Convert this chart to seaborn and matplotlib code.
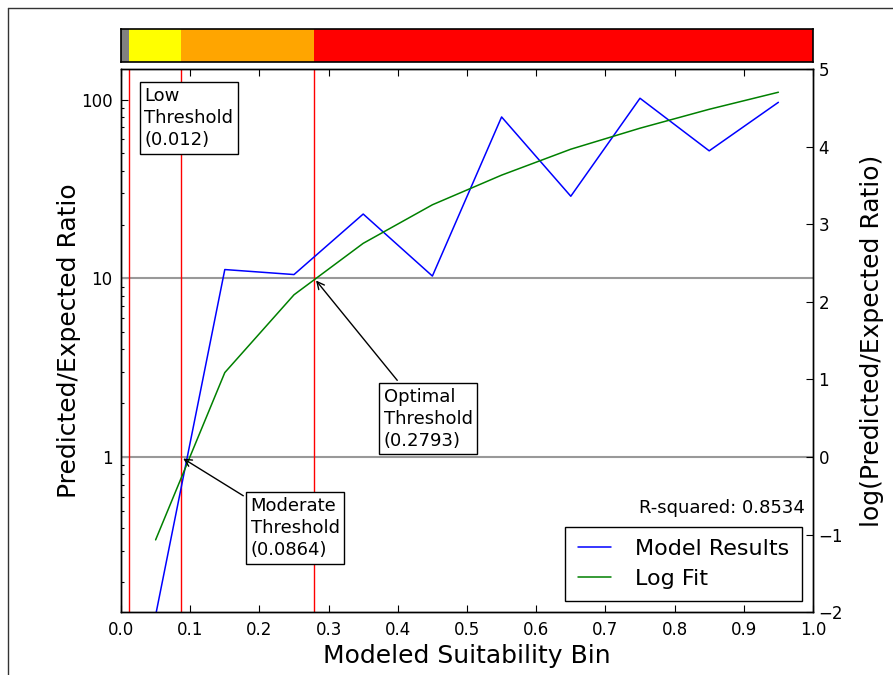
import numpy as np
import pandas as pd
import matplotlib
matplotlib.use("Agg")
import matplotlib.pyplot as plt
import matplotlib.ticker as mticker
from matplotlib.lines import Line2D
import seaborn as sns

# ---- data ----
bins = [0.05, 0.15, 0.25, 0.35, 0.45, 0.55, 0.65, 0.75, 0.85, 0.95]
model_results = [0.13, 11.2, 10.5, 22.9, 10.3, 80.0, 28.8, 101.8, 51.7, 96.6]
log_fit = [0.344, 2.97, 8.09, 15.7, 25.8, 37.8, 52.8, 69.2, 88.3, 110.0]
thresholds = [0.012, 0.0864, 0.2793]
threshold_names = ["Low", "Moderate", "Optimal"]
strip_edges = [0.0, 0.012, 0.0864, 0.2793, 1.0]
strip_colors = ["#808080", "#ffff00", "#ffa500", "#ff0000"]
ref_lines = [1, 10]
r_squared = 0.8534
x_ticks = [0.0, 0.1, 0.2, 0.3, 0.4, 0.5, 0.6, 0.7, 0.8, 0.9, 1.0]
left_ticks = [1, 10, 100]
right_ticks = [-2, -1, 0, 1, 2, 3, 4, 5]

sns.set_theme(style="white", rc={
    "axes.edgecolor": "black", "axes.linewidth": 1.0,
    "xtick.direction": "in", "ytick.direction": "in",
    "xtick.color": "black", "ytick.color": "black",
    "text.color": "black", "axes.labelcolor": "black",
})
plt.rcParams["font.family"] = ["DejaVu Sans"]

fig = plt.figure(figsize=(8.93, 6.75), dpi=100)
fig.patch.set_facecolor("white")

ax = fig.add_axes([0.1355, 0.0929, 0.7749, 0.8049])
ax_s = fig.add_axes([0.1355, 0.9086, 0.7749, 0.0484])

df = pd.DataFrame({"bin": bins, "model": model_results, "fit": log_fit})
sns.lineplot(data=df, x="bin", y="model", ax=ax, color="#0000ff", lw=1.1,
             label="Model Results")
sns.lineplot(data=df, x="bin", y="fit", ax=ax, color="#008000", lw=1.1,
             label="Log Fit")
ax.set_yscale("log")
ax.set_ylim(np.exp(-2), np.exp(5))
ax.set_xlim(0, 1)

for r in ref_lines:
    ax.axhline(r, color="0.6", lw=1.5, zorder=1)
for t in thresholds:
    ax.axvline(t, color="#ff0000", lw=1.0, zorder=1.5)

ax.set_xticks(x_ticks)
ax.set_xticklabels([f"{v:.1f}" for v in x_ticks])
ax.yaxis.set_major_locator(mticker.FixedLocator(left_ticks))
ax.yaxis.set_major_formatter(mticker.FixedFormatter([str(v) for v in left_ticks]))
ax.yaxis.set_minor_locator(mticker.LogLocator(base=10, subs=np.arange(2, 10)))
ax.yaxis.set_minor_formatter(mticker.NullFormatter())
ax.tick_params(axis="x", which="both", top=True, bottom=True, labelsize=12,
               length=5, width=0.8, pad=6)
ax.tick_params(axis="y", which="major", left=True, right=False, labelsize=12,
               length=5, width=0.8, pad=6)
ax.tick_params(axis="y", which="minor", left=True, right=False,
               length=2.5, width=0.8)
ax.set_xlabel("Modeled Suitability Bin", fontsize=18, labelpad=4)
ax.set_ylabel("Predicted/Expected Ratio", fontsize=18, labelpad=0)

# annotations
bbox = dict(boxstyle="square,pad=0.25", fc="white", ec="black", lw=1.0)
ax.text(0.0337, 118, f"{threshold_names[0]}\nThreshold\n({thresholds[0]})",
        fontsize=13, va="top", ha="left", bbox=bbox, linespacing=1.3, zorder=5)
ax.annotate(f"{threshold_names[1]}\nThreshold\n({thresholds[1]})",
            xy=(thresholds[1], 1), xytext=(0.1874, 0.60),
            fontsize=13, va="top", ha="left", bbox=bbox, linespacing=1.3,
            arrowprops=dict(arrowstyle="->", color="black", lw=1.0), zorder=5)
ax.annotate(f"{threshold_names[2]}\nThreshold\n({thresholds[2]})",
            xy=(thresholds[2], 10), xytext=(0.380, 2.45),
            fontsize=13, va="top", ha="left", bbox=bbox, linespacing=1.3,
            arrowprops=dict(arrowstyle="->", color="black", lw=1.0), zorder=5)

ax.text(0.988, 0.183, f"R-squared: {r_squared}", transform=ax.transAxes,
        fontsize=13, ha="right", va="baseline")

leg = ax.legend(loc="lower right", fontsize=16, frameon=True, fancybox=False,
                edgecolor="black", framealpha=1, handlelength=1.5,
                handletextpad=1.1, labelspacing=0.45, borderpad=0.55)
leg.get_frame().set_linewidth(1.0)

ax2 = ax.twinx()
ax2.set_ylim(-2, 5)
ax2.set_yticks(right_ticks)
ax2.tick_params(axis="y", right=True, labelsize=12, length=5, width=0.8, pad=4)
ax2.set_ylabel("log(Predicted/Expected Ratio)", fontsize=18, labelpad=12)
ax2.grid(False)

# top colour strip
for i, c in enumerate(strip_colors):
    ax_s.barh(0.5, strip_edges[i + 1] - strip_edges[i], left=strip_edges[i],
              height=1.0, color=c, edgecolor="none")
ax_s.set_xlim(0, 1)
ax_s.set_ylim(0, 1)
ax_s.set_xticks([])
ax_s.set_yticks([])
for sp in ax_s.spines.values():
    sp.set_color("black")
    sp.set_linewidth(1.2)

# outer frame (left and top edges)
fig.add_artist(Line2D([8 / 893, 8 / 893], [0, 1 - 8 / 675], transform=fig.transFigure,
                      color="#333333", lw=1.0))
fig.add_artist(Line2D([8 / 893, 1], [1 - 8 / 675, 1 - 8 / 675], transform=fig.transFigure,
                      color="#333333", lw=1.0))

fig.savefig("out.png", dpi=100, facecolor="white")
